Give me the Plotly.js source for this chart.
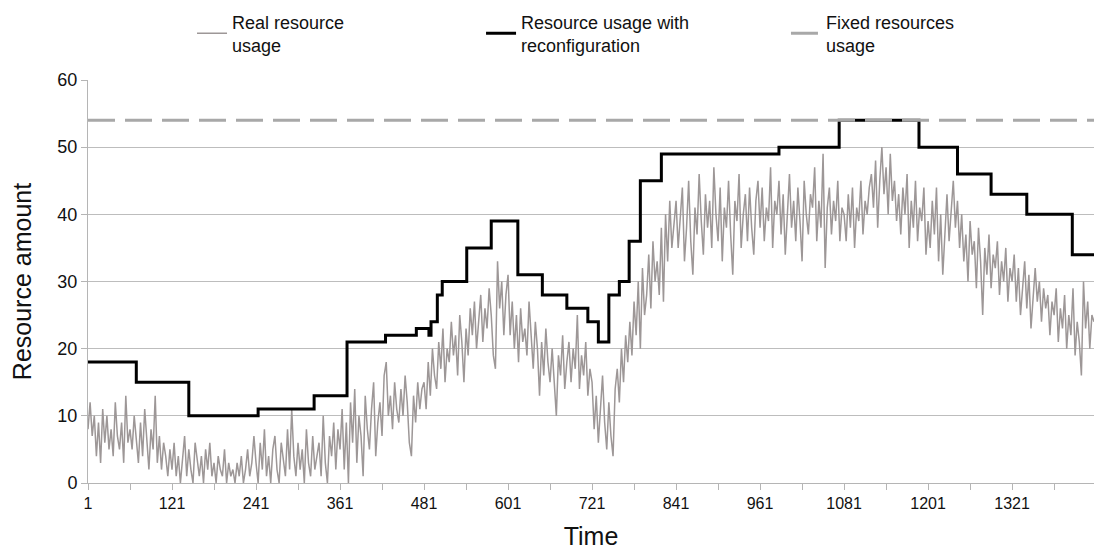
<!DOCTYPE html>
<html>
<head>
<meta charset="utf-8">
<script src="https://cdn.plot.ly/plotly-3.0.1.min.js"></script>
<style>html,body{margin:0;padding:0;background:#fff;}#chart{width:1094px;height:551px;}</style>
</head>
<body>
<div id="chart"></div>
<script>
// Real resource usage, sampled every 3 time units starting at t = 1
const timeStart = 1;
const timeStep = 3;
const realUsage = [
  // t 1-118
  8,12,7,10,4,9,3,11,6,10,5,8,4,12,7,5,9,3,13,6,8,5,10,7,3,9,4,11,6,2,8,5,13,3,7,2,6,4,1,5,
  // t 121-238
  2,6,1,4,0,3,7,1,5,2,0,6,3,1,4,0,5,2,6,1,3,0,4,2,1,5,0,3,1,2,0,3,1,4,0,2,5,1,3,7,
  // t 241-358
  3,0,6,2,8,1,4,0,5,7,2,0,6,3,1,8,2,11,4,1,6,2,5,0,8,3,1,7,2,4,6,1,10,3,0,7,4,9,2,8,
  // t 361-478
  5,11,2,9,0,12,6,14,3,10,7,1,13,8,5,11,15,4,9,12,7,16,18,10,13,8,15,11,9,14,10,16,12,6,4,13,9,15,11,14,
  // t 481-598
  15,11,18,13,20,16,14,21,17,23,15,20,18,24,19,22,16,25,21,15,23,19,26,22,27,20,24,28,21,26,23,29,25,19,17,33,26,30,22,28,
  // t 601-718
  31,22,27,20,25,18,26,21,23,19,27,22,17,24,20,13,21,16,23,18,15,20,14,10,19,16,22,14,18,21,15,20,17,25,14,19,16,21,13,17,
  // t 721-838
  15,8,13,6,11,16,9,5,12,7,4,14,17,12,20,15,22,18,24,19,27,22,30,20,32,25,28,34,26,36,30,33,28,38,27,40,33,42,35,39,
  // t 841-958
  42,35,40,44,33,38,45,36,31,41,37,46,39,34,43,38,42,35,47,40,36,44,33,41,38,45,37,31,42,39,46,35,40,43,36,44,38,34,42,45,
  // t 961-1078
  38,44,36,41,39,47,35,42,40,45,37,43,34,41,46,38,42,36,44,39,33,45,40,37,43,41,47,36,42,38,49,32,41,44,37,42,39,45,36,41,
  // t 1081-1198
  40,36,43,38,44,35,41,39,45,37,42,40,44,46,41,48,38,45,50,43,47,40,49,42,45,39,43,37,44,40,46,35,42,38,45,36,41,39,44,34,
  // t 1201-1318
  39,35,42,37,44,33,40,31,38,43,36,41,45,38,42,35,40,33,37,30,39,34,36,29,38,33,25,35,31,37,29,34,32,36,28,33,30,35,27,32,
  // t 1321-1438
  30,34,27,32,25,29,33,26,31,23,28,32,27,30,24,29,26,28,22,27,25,29,21,26,23,28,20,25,22,29,19,24,21,16,30,23,27,20,25,24
];
const realTimes = realUsage.map((_, i) => timeStart + i * timeStep);

// Resource usage with reconfiguration (step changes)
const reconfTimes  = [1, 70, 145, 244, 324, 371, 426, 470, 488, 491, 500, 507, 542, 577, 615, 650, 685, 715, 730, 745, 760, 774, 790, 820, 988, 1074, 1188, 1243, 1291, 1342, 1407, 1438];
const reconfValues = [18, 15, 10, 11, 13, 21, 22, 23, 22, 24, 28, 30, 35, 39, 31, 28, 26, 24, 21, 28, 30, 36, 45, 49, 50, 54, 50, 46, 43, 40, 34, 34];

// Fixed resources usage
const fixedTimes = [1, 1438];
const fixedValues = [54, 54];

// Legend names
const seriesNames = ['Real resource<br>usage', 'Resource usage with<br>reconfiguration', 'Fixed resources<br>usage'];

// Axis ticks
const xTickVals = [1, 61, 121, 181, 241, 301, 361, 421, 481, 541, 601, 661, 721, 781, 841, 901, 961, 1021, 1081, 1141, 1201, 1261, 1321, 1381];
const xTickText = ['1', '', '121', '', '241', '', '361', '', '481', '', '601', '', '721', '', '841', '', '961', '', '1081', '', '1201', '', '1321', ''];

const FONT = '"Liberation Sans", Arial, sans-serif';

const traces = [
  {
    x: realTimes, y: realUsage, type: 'scatter', mode: 'lines',
    name: seriesNames[0], legend: 'legend',
    line: {color: '#9d9797', width: 1.5}
  },
  {
    x: reconfTimes, y: reconfValues, type: 'scatter', mode: 'lines',
    name: seriesNames[1], legend: 'legend2',
    line: {color: '#000000', width: 3, shape: 'hv'}
  },
  {
    x: fixedTimes, y: fixedValues, type: 'scatter', mode: 'lines',
    name: seriesNames[2], legend: 'legend3',
    line: {color: '#a8a8a8', width: 3, dash: '27px,10px'}
  }
];

function legendAt(xpos) {
  return {
    x: xpos, y: 1.19, xanchor: 'left', yanchor: 'top',
    font: {family: FONT, size: 18, color: '#111'},
    itemwidth: 30, bgcolor: 'rgba(0,0,0,0)'
  };
}

const layout = {
  width: 1094, height: 551,
  margin: {l: 88, r: 0, t: 80, b: 68, autoexpand: false},
  paper_bgcolor: '#ffffff', plot_bgcolor: '#ffffff',
  font: {family: FONT, size: 17, color: '#111'},
  showlegend: true,
  legend: legendAt(0.1034),
  legend2: legendAt(0.3907),
  legend3: legendAt(0.6938),
  xaxis: {
    range: [1, 1438], showgrid: false, zeroline: false,
    showline: true, linecolor: '#b5b5b5', linewidth: 1,
    tickmode: 'array', tickvals: xTickVals, ticktext: xTickText,
    ticks: 'outside', ticklen: 6, tickcolor: '#b5b5b5',
    tickfont: {family: FONT, size: 16, color: '#111'},
    title: {text: 'Time', font: {family: FONT, size: 25, color: '#111'}, standoff: 16}
  },
  yaxis: {
    range: [0, 60], dtick: 10, tick0: 0,
    showgrid: true, gridcolor: '#bdbdbd', gridwidth: 1, zeroline: false,
    showline: true, linecolor: '#b5b5b5', linewidth: 1,
    ticks: 'outside', ticklen: 6, tickcolor: '#b5b5b5',
    tickfont: {family: FONT, size: 18, color: '#111'},
    title: {text: 'Resource amount', font: {family: FONT, size: 25, color: '#111'}, standoff: 18}
  }
};

Plotly.newPlot('chart', traces, layout, {displayModeBar: false, staticPlot: true});
</script>
</body>
</html>
